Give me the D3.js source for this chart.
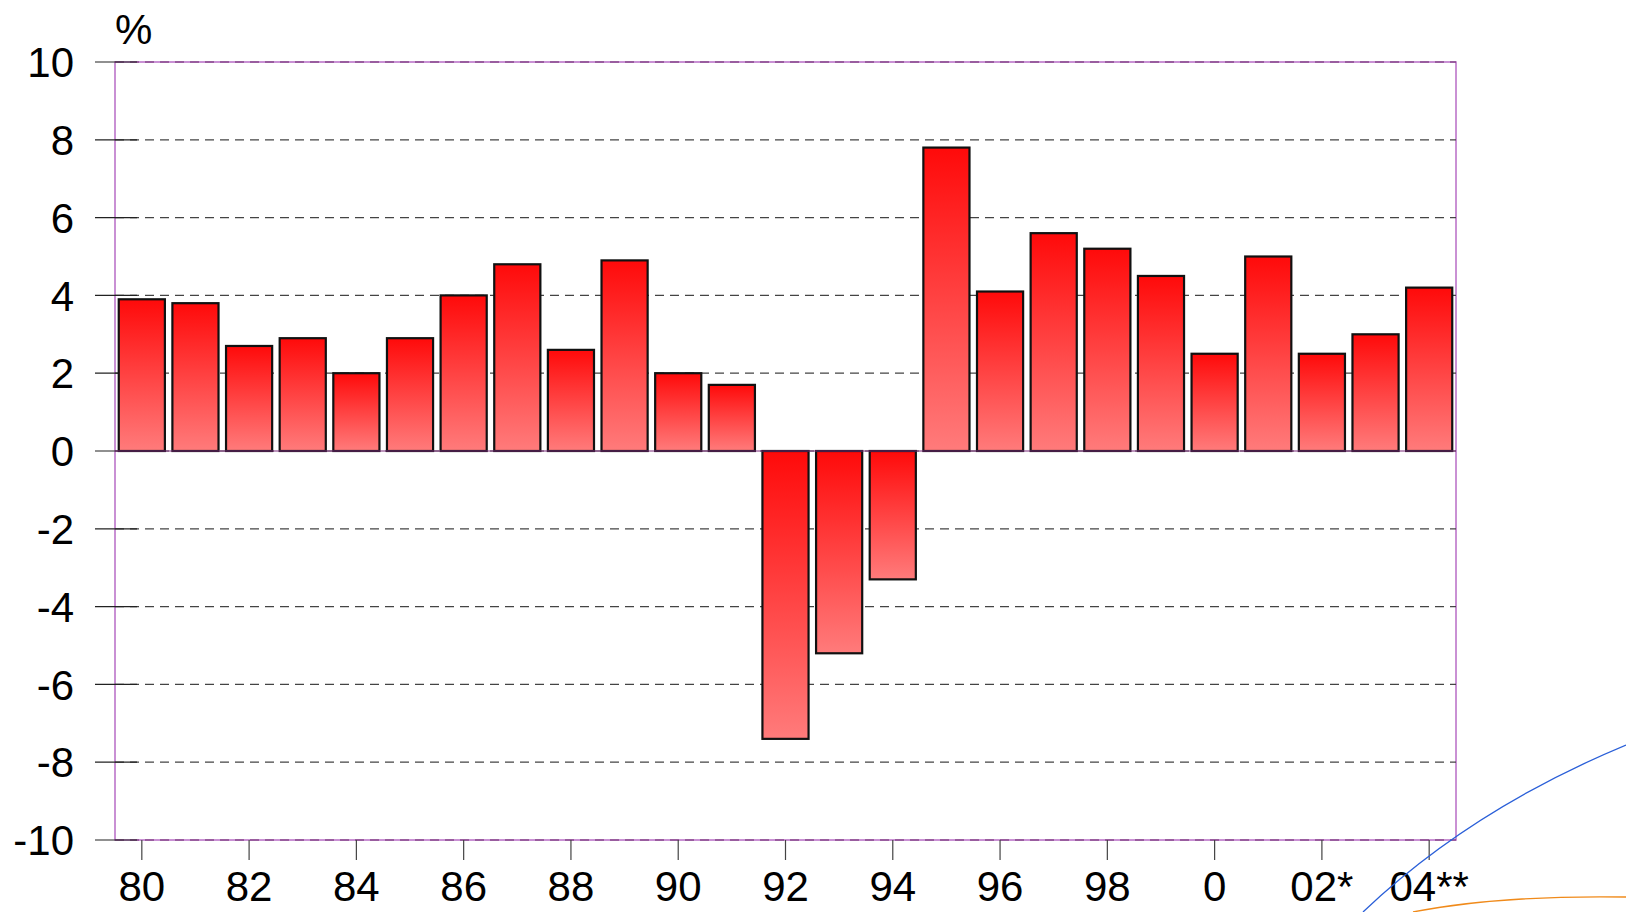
<!DOCTYPE html>
<html><head><meta charset="utf-8">
<script src="https://cdn.jsdelivr.net/npm/d3@7"></script>
<style>html,body{margin:0;padding:0;background:#fff;overflow:hidden}svg{display:block}</style>
</head><body>
<svg id="c" width="1626" height="912"></svg>
<script>
const years = ["80","81","82","83","84","85","86","87","88","89","90","91","92","93","94","95","96","97","98","99","00","01","02","03","04"];
const values = [3.9,3.8,2.7,2.9,2.0,2.9,4.0,4.8,2.6,4.9,2.0,1.7,-7.4,-5.2,-3.3,7.8,4.1,5.6,5.2,4.5,2.5,5.0,2.5,3.0,4.2];
const tickYears = ["80","82","84","86","88","90","92","94","96","98","00","02","04"];
const tickLabels = ["80","82","84","86","88","90","92","94","96","98","0","02*","04**"];
const yTicks = [-10,-8,-6,-4,-2,0,2,4,6,8,10];
const yLabel = "%";

const svg = d3.select("#c");
const L = 115, R = 1456, T = 62, B = 840;
const x = d3.scaleBand().domain(years).range([L, R]).paddingInner(0.14).paddingOuter(0.07);
const xc = d3.scaleBand().domain(years).range([L, R]);
const y = d3.scaleLinear().domain([-10, 10]).range([B, T]);
const font = "'Liberation Sans', Arial, Helvetica, sans-serif";

const defs = svg.append("defs");
const gPos = defs.append("linearGradient").attr("id","gp").attr("x1",0).attr("y1",0).attr("x2",0).attr("y2",1);
gPos.append("stop").attr("offset","0%").attr("stop-color","#ff0a0a");
gPos.append("stop").attr("offset","100%").attr("stop-color","#ff7b7b");

// frame
svg.append("rect").attr("x",L).attr("y",T).attr("width",R-L).attr("height",B-T)
  .attr("fill","none").attr("stroke","#b86cc6").attr("stroke-width",1.5);

// grid
svg.append("g").selectAll("line").data(yTicks).join("line")
  .attr("x1",L).attr("x2",R).attr("y1",d=>y(d)).attr("y2",d=>y(d))
  .attr("stroke", d=> (d===10||d===-10) ? "#6a2a6a" : "#444")
  .attr("stroke-width",1.2).attr("stroke-dasharray","9,6");

// y axis ticks & labels
const ya = svg.append("g");
ya.selectAll("line").data(yTicks).join("line")
  .attr("x1",95).attr("x2",137).attr("y1",d=>y(d)).attr("y2",d=>y(d))
  .attr("stroke","#222").attr("stroke-width",1.2);
ya.selectAll("text").data(yTicks).join("text")
  .attr("x",74).attr("y",d=>y(d)).attr("dy","0.36em").attr("text-anchor","end")
  .attr("font-family",font).attr("font-size",42).attr("fill","#000").text(d=>d);
svg.append("text").attr("x",115).attr("y",44).attr("font-family",font).attr("font-size",42).text(yLabel);

// bars
svg.append("g").selectAll("rect").data(values).join("rect")
  .attr("x",(d,i)=>x(years[i]))
  .attr("width",x.bandwidth())
  .attr("y",d=>y(Math.max(0,d)))
  .attr("height",d=>Math.abs(y(d)-y(0)))
  .attr("fill","url(#gp)")
  .attr("stroke","#111").attr("stroke-width",2.2);

// zero line
svg.append("line").attr("x1",L).attr("x2",R).attr("y1",y(0)).attr("y2",y(0))
  .attr("stroke","#7a2a7a").attr("stroke-width",1);

// x ticks & labels
const xa = svg.append("g");
xa.selectAll("line").data(tickYears).join("line")
  .attr("x1",d=>xc(d)+xc.bandwidth()/2).attr("x2",d=>xc(d)+xc.bandwidth()/2)
  .attr("y1",B).attr("y2",860).attr("stroke","#444").attr("stroke-width",1.2);
xa.selectAll("text").data(tickYears).join("text")
  .attr("x",d=>xc(d)+xc.bandwidth()/2).attr("y",901).attr("text-anchor","middle")
  .attr("font-family",font).attr("font-size",42).attr("fill","#000")
  .text((d,i)=>tickLabels[i]);

// decorative slide curves
svg.append("path").attr("d","M1363,912 Q1470,810 1626,745").attr("fill","none").attr("stroke","#2a5fd8").attr("stroke-width",1.3);
svg.append("path").attr("d","M1413,912 Q1500,895 1626,897").attr("fill","none").attr("stroke","#f08a1a").attr("stroke-width",1.3);
</script>
</body></html>
